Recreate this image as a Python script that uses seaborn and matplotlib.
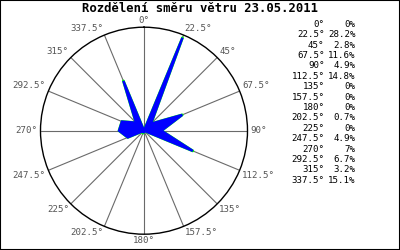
import numpy as np
import matplotlib
matplotlib.use("Agg")
import matplotlib.pyplot as plt
import seaborn as sns
from matplotlib.patches import Rectangle

# ---- data ----
directions = [0, 22.5, 45, 67.5, 90, 112.5, 135, 157.5, 180, 202.5, 225, 247.5,
              270, 292.5, 315, 337.5]
percent = [0, 28.2, 2.8, 11.6, 4.9, 14.8, 0, 0, 0, 0.7, 0, 4.9, 7, 6.7, 3.2, 15.1]
title = "Rozdělení směru větru 23.05.2011"
r_max = 29.0

sns.set_theme(style="white")
plt.rcParams['font.family'] = ['DejaVu Sans Mono', 'DejaVu Sans']

W, H = 400, 250
fig = plt.figure(figsize=(4, 2.5), dpi=100)
fig.patch.set_facecolor('white')

cx, cy, R = 144, 130.7, 103.5
ax = fig.add_axes([(cx - R) / W, (H - cy - R) / H, 2 * R / W, 2 * R / H],
                  projection='polar')
ax.set_theta_zero_location('N')
ax.set_theta_direction(-1)
ax.set_ylim(0, r_max)
ax.grid(False)
ax.set_xticks([])
ax.set_yticks([])
ax.set_facecolor('white')
ax.spines['polar'].set_color('black')
ax.spines['polar'].set_linewidth(1.0)

theta = np.deg2rad(directions)

# spokes
for th in theta:
    ax.plot([th, th], [0, r_max], color='#6a6a6a', lw=0.8, zorder=1)

# rose: green outline then blue fill with a thick blue edge
th_closed = np.append(theta, theta[0])
r_closed = np.append(percent, percent[0])
sns.lineplot(x=th_closed, y=r_closed, ax=ax, sort=False, color='#00ff00',
             lw=2.0, zorder=2, estimator=None)
ax.fill(th_closed, r_closed, facecolor='#0000ff', edgecolor='#0000ff',
        lw=1.7, joinstyle='miter', zorder=3)

# direction labels
for d, th in zip(directions, theta):
    s, c = np.sin(th), np.cos(th)
    if abs(s) < 0.1:
        ha = 'center'
    elif s > 0:
        ha = 'left'
    else:
        ha = 'right'
    if abs(c) < 0.1:
        va = 'center'
    elif c > 0:
        va = 'bottom'
    else:
        va = 'top'
    ax.annotate(f"{d:g}°", xy=(th, r_max), xytext=(2 * s, 1.5 * c),
                textcoords='offset points', ha=ha, va=va, fontsize=6.6,
                color='#555555', annotation_clip=False)

# title
fig.text(199.5 / W, 1 - 8.5 / H, title, ha='center', va='center',
         fontsize=8.8, fontweight='bold', color='black')

# table
y0, dy = 24.3, 10.4
for i, (d, p) in enumerate(zip(directions, percent)):
    y = 1 - (y0 + i * dy) / H
    fig.text(324.5 / W, y, f"{d:g}°", ha='right', va='center', fontsize=6.6,
             color='black')
    fig.text(355.5 / W, y, f"{p:g}%", ha='right', va='center', fontsize=6.6,
             color='black')

# frame
fig.patches.append(Rectangle((0, 0), 1, 1, transform=fig.transFigure,
                             fill=False, lw=1.5, ec='black'))

fig.savefig('out.png', dpi=100)
